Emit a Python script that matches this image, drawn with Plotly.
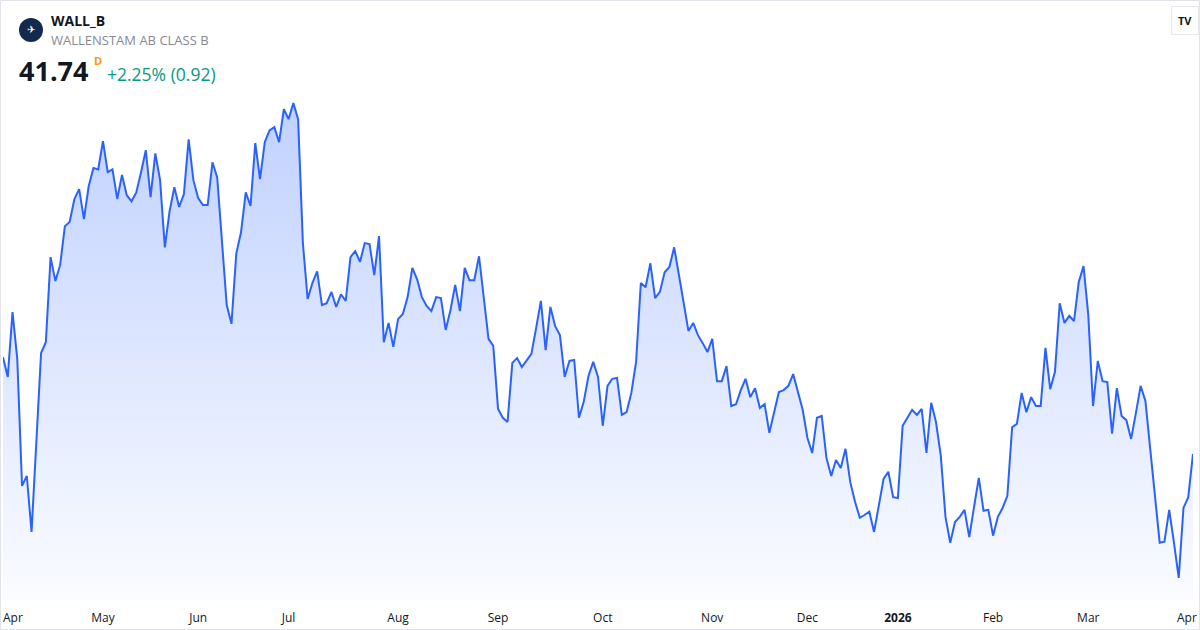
import pandas as pd
import plotly.graph_objects as go

# Daily closes, WALL_B (Wallenstam AB class B), 2025-03-31 .. 2026-04-01
CLOSES = [
    43.80, 43.38, 44.76, 43.76, 41.06, 41.27, 40.08, 42.04, 43.89, 44.12,
    45.93, 45.42, 45.76, 46.59, 46.68, 47.17, 47.38, 46.74, 47.44, 47.83,
    47.80, 48.40, 47.74, 47.80, 47.17, 47.68, 47.25, 47.12, 47.31, 47.74,
    48.21, 47.21, 48.14, 47.57, 46.14, 46.91, 47.42, 47.00, 47.27, 48.44,
    47.57, 47.19, 47.04, 47.04, 47.95, 47.63, 46.36, 44.91, 44.51, 46.00,
    46.46, 47.31, 47.02, 48.36, 47.59, 48.38, 48.63, 48.70, 48.38, 49.08,
    48.87, 49.21, 48.87, 46.23, 45.04, 45.38, 45.63, 44.91, 44.95, 45.19,
    44.87, 45.14, 45.00, 45.93, 46.06, 45.83, 46.23, 46.21, 45.55, 46.38,
    44.12, 44.53, 44.02, 44.61, 44.72, 45.08, 45.70, 45.46, 45.08, 44.89,
    44.78, 45.08, 45.06, 44.38, 44.80, 45.34, 44.78, 45.70, 45.44, 45.44,
    45.95, 45.06, 44.19, 44.04, 42.70, 42.51, 42.42, 43.68, 43.78, 43.59,
    43.72, 43.87, 44.42, 45.00, 43.95, 44.87, 44.46, 44.27, 43.38, 43.72,
    43.74, 42.51, 42.85, 43.40, 43.70, 43.38, 42.34, 43.19, 43.34, 43.36,
    42.57, 42.63, 43.04, 43.70, 45.38, 45.29, 45.80, 45.06, 45.19, 45.61,
    45.72, 46.14, 45.55, 44.95, 44.36, 44.53, 44.27, 44.10, 43.91, 44.19,
    43.29, 43.29, 43.61, 42.76, 42.80, 43.10, 43.34, 42.95, 43.14, 42.72,
    42.80, 42.19, 42.61, 43.06, 43.10, 43.19, 43.44, 43.04, 42.68, 42.08,
    41.76, 42.51, 42.55, 41.65, 41.27, 41.61, 41.44, 41.85, 41.14, 40.72,
    40.38, 40.44, 40.51, 40.08, 40.68, 41.21, 41.36, 40.82, 40.80, 42.34,
    42.51, 42.68, 42.57, 42.70, 41.76, 42.83, 42.42, 41.72, 40.40, 39.85,
    40.29, 40.40, 40.55, 39.97, 40.61, 41.23, 40.53, 40.55, 40.00, 40.40,
    40.59, 40.85, 42.31, 42.38, 43.04, 42.63, 42.95, 42.76, 42.76, 44.00,
    43.12, 43.49, 44.95, 44.53, 44.68, 44.57, 45.40, 45.74, 44.70, 42.76,
    43.72, 43.29, 43.27, 42.17, 43.14, 42.55, 42.46, 42.06, 42.61, 43.19,
    42.87, 41.89, 40.87, 39.85, 39.87, 40.55, 39.85, 39.10, 40.59, 40.82,
    41.74,
]

# Stockholm exchange holidays inside the window
HOLIDAYS = [
    "2025-04-18", "2025-04-21", "2025-05-01", "2025-05-29", "2025-06-06",
    "2025-06-20", "2025-12-24", "2025-12-25", "2025-12-26", "2025-12-31",
    "2026-01-01", "2026-01-06",
]
MONTH_LABELS = ["Apr", "May", "Jun", "Jul", "Aug", "Sep", "Oct", "Nov", "Dec",
                "<b>2026</b>", "Feb", "Mar", "Apr"]

SYMBOL = "WALL_B"
NAME = "WALLENSTAM AB CLASS B"
LAST = "41.74"
CHANGE = "+2.25% (0.92)"

LINE = "#2962ff"
Y_MIN, Y_MAX = 38.63, 49.49

days = pd.bdate_range("2025-03-31", "2026-04-01")
days = days[~days.isin(pd.to_datetime(HOLIDAYS))]
dates = [d.strftime("%Y-%m-%d") for d in days]
assert len(dates) == len(CLOSES)

# first trading day of each month gets a label
month_firsts = []
seen = set()
for d in days:
    key = (d.year, d.month)
    if key not in seen and d.day <= 7:
        seen.add(key)
        month_firsts.append(d.strftime("%Y-%m-%d"))
month_firsts = month_firsts[:len(MONTH_LABELS)]

W, H = 1200, 630
ML, MR, MT, MB = 3, 7, 90, 30
AXIS_FONT = dict(family="Open Sans", size=12, color="#131722")


def px(x):
    return (x - ML) / (W - ML - MR)


def py(y):
    return 1 - (y - MT) / (H - MT - MB)


fig = go.Figure()
fig.add_scatter(
    x=dates, y=CLOSES, mode="lines",
    line=dict(color=LINE, width=2),
    fill="tozeroy",
    fillgradient=dict(
        type="vertical", start=Y_MIN, stop=Y_MAX,
        colorscale=[[0, "rgba(41,98,255,0.02)"], [1, "rgba(41,98,255,0.30)"]],
    ),
    hoverinfo="skip",
)

font = "Open Sans"
annotations = [
    dict(text=f"<b>{SYMBOL}</b>", x=px(49), y=py(20), xanchor="left", yanchor="middle",
         font=dict(family=font, size=14, color="#131722")),
    dict(text=NAME, x=px(49), y=py(40), xanchor="left", yanchor="middle",
         font=dict(family=font, size=13, color="#868993")),
    dict(text=f"<b>{LAST}</b>", x=px(17), y=py(71), xanchor="left", yanchor="middle",
         font=dict(family=font, size=27, color="#131722")),
    dict(text="<b>D</b>", x=px(92), y=py(61), xanchor="left", yanchor="middle",
         font=dict(family=font, size=11, color="#ff9800")),
    dict(text=CHANGE, x=px(105), y=py(74), xanchor="left", yanchor="middle",
         font=dict(family=font, size=17.5, color="#089981")),
    dict(text="<b>TV</b>", x=px(1185), y=py(20), xanchor="center", yanchor="middle",
         font=dict(family=font, size=11, color="#131722"),
         bgcolor="white", bordercolor="#e6e8ee", borderwidth=1, borderpad=6),
    dict(text="✈", x=px(31), y=py(30), xanchor="center", yanchor="middle",
         font=dict(family="DejaVu Sans", size=10, color="white")),
]
for a in annotations:
    a.update(xref="paper", yref="paper", showarrow=False)

# the two edge "Apr" labels are pulled inside the frame, as the widget does
annotations += [
    dict(text=MONTH_LABELS[0], x=month_firsts[0], xref="x", y=py(617), yref="paper",
         xanchor="left", xshift=-7, yanchor="middle", showarrow=False, font=AXIS_FONT),
    dict(text=MONTH_LABELS[-1], x=month_firsts[-1], xref="x", y=py(617), yref="paper",
         xanchor="right", xshift=6, yanchor="middle", showarrow=False, font=AXIS_FONT),
]

shapes = [
    dict(type="rect", xref="paper", yref="paper",
         x0=px(0.5), x1=px(1199.5), y0=py(629.5), y1=py(0.5),
         line=dict(color="#e0e3eb", width=1), layer="below"),
    dict(type="circle", xref="paper", yref="paper",
         x0=px(19), x1=px(43), y0=py(42), y1=py(18),
         fillcolor="#132a4e", line=dict(width=0), layer="below"),
]

fig.update_layout(
    width=W, height=H,
    margin=dict(l=ML, r=MR, t=MT, b=MB, autoexpand=False),
    paper_bgcolor="white", plot_bgcolor="white",
    showlegend=False, hovermode=False,
    font=dict(family=font),
    xaxis=dict(
        type="category", range=[0, len(dates) - 1], automargin=False,
        tickvals=month_firsts[1:-1], ticktext=MONTH_LABELS[1:-1],
        showgrid=False, zeroline=False, showline=False, ticks="",
        ticklabelstandoff=9, tickfont=AXIS_FONT,
    ),
    yaxis=dict(range=[Y_MIN, Y_MAX], visible=False),
    annotations=annotations,
    shapes=shapes,
)

fig.write_html("out.html", config={"displayModeBar": False},
               post_script="document.body.style.margin='0';")
